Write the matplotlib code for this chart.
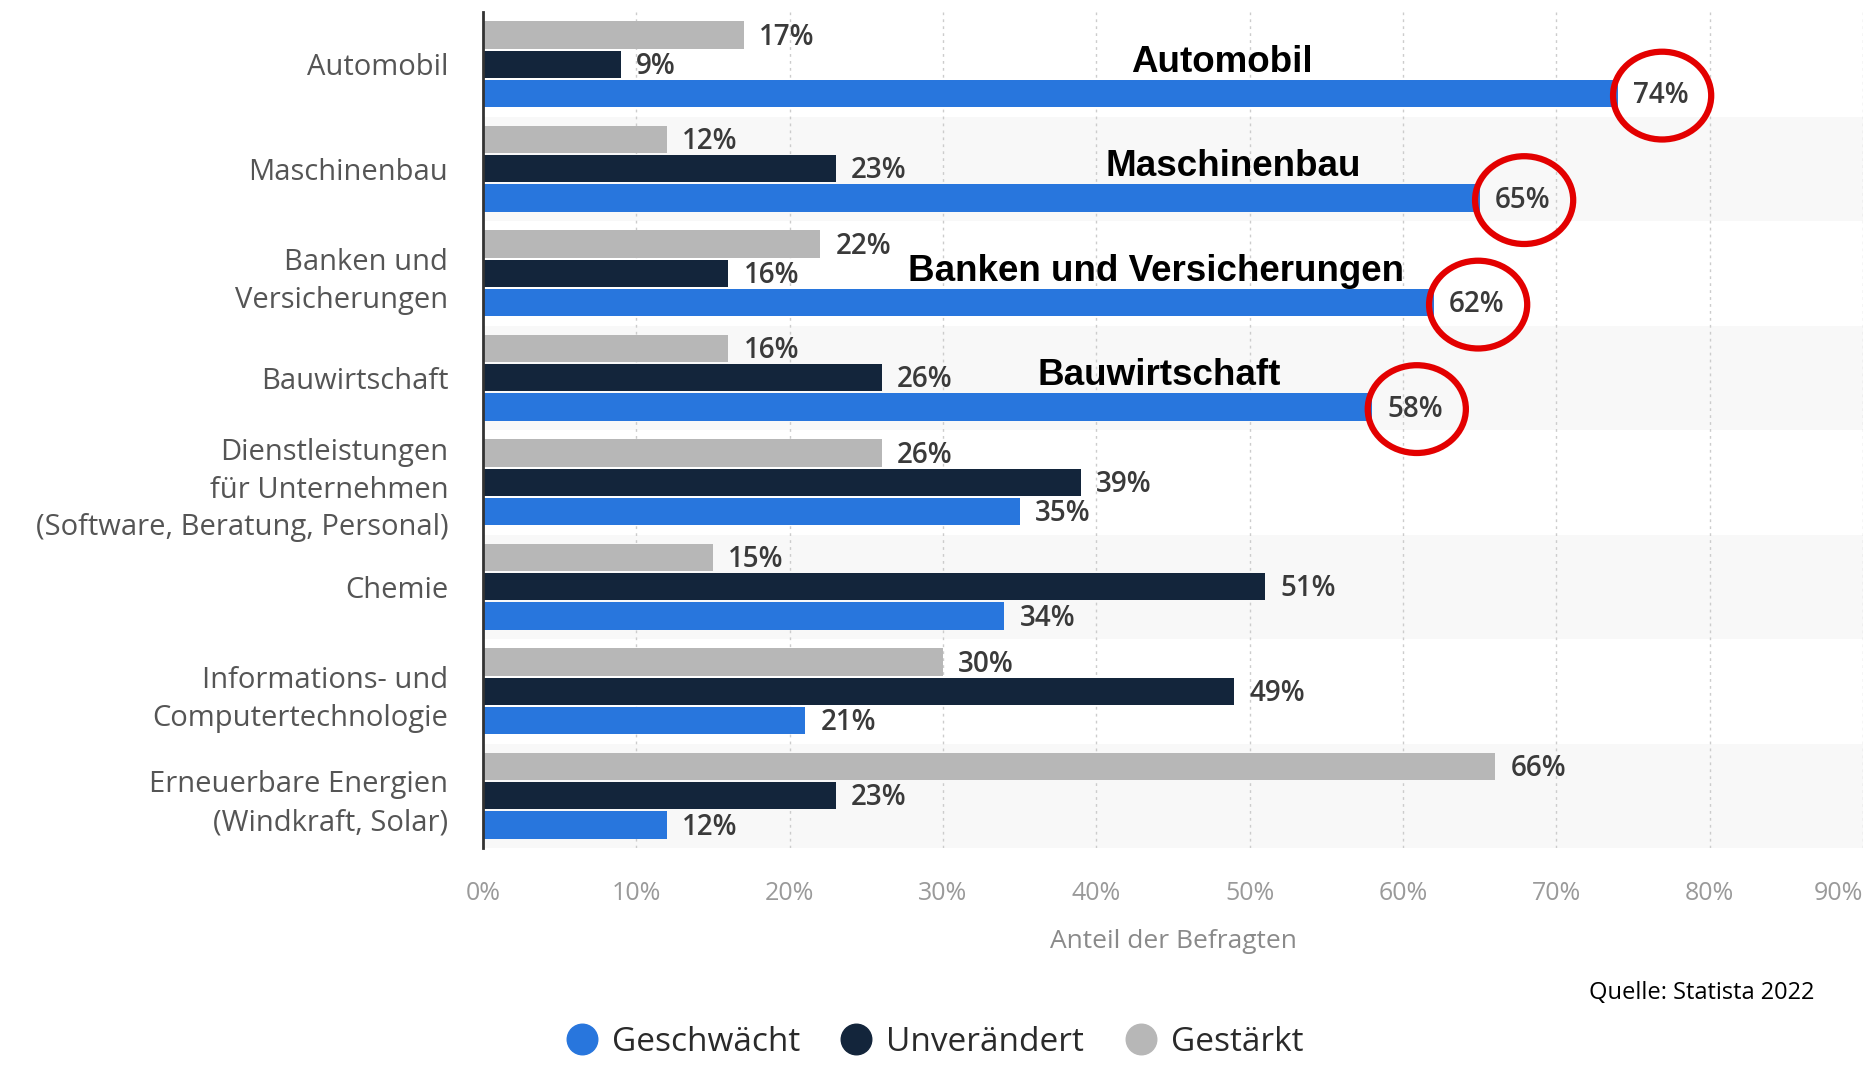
import matplotlib
matplotlib.use("Agg")
import matplotlib.pyplot as plt
from matplotlib.patches import Ellipse
from matplotlib.lines import Line2D
import numpy as np

categories = ["Automobil", "Maschinenbau", "Banken und\nVersicherungen", "Bauwirtschaft",
              "Dienstleistungen\nfür Unternehmen\n(Software, Beratung, Personal)", "Chemie",
              "Informations- und\nComputertechnologie", "Erneuerbare Energien\n(Windkraft, Solar)"]
geschwaecht = [74, 65, 62, 58, 35, 34, 21, 12]
unveraendert = [9, 23, 16, 26, 39, 51, 49, 23]
gestaerkt = [17, 12, 22, 16, 26, 15, 30, 66]
series_names = ["Geschwächt", "Unverändert", "Gestärkt"]
xticks = [0, 10, 20, 30, 40, 50, 60, 70, 80, 90]

# highlighted sectors (bold name above the blue bar + red circle)
highlight = ["Automobil", "Maschinenbau", "Banken und Versicherungen", "Bauwirtschaft"]
highlight_x = [48.2, 48.9, 43.9, 44.1]

BLUE = "#2876dd"
NAVY = "#13253b"
GREY = "#b7b7b7"
FONT = "Open Sans"

fig = plt.figure(figsize=(18.68, 10.65), dpi=100)
ax = fig.add_axes([483 / 1868, 1 - 848 / 1065, (1863 - 483) / 1868, (848 - 12) / 1065])

y = np.arange(len(categories))
h = 0.26
off = 0.28

# alternating band shading
for i in y:
    if i % 2 == 1:
        ax.axhspan(i - 0.5, i + 0.5, color="#f8f8f8", zorder=0, lw=0)

ax.barh(y - off, gestaerkt, height=h, color=GREY, zorder=3)
ax.barh(y, unveraendert, height=h, color=NAVY, zorder=3)
ax.barh(y + off, geschwaecht, height=h, color=BLUE, zorder=3)

for vals, dy in [(gestaerkt, -off), (unveraendert, 0), (geschwaecht, off)]:
    for i, v in enumerate(vals):
        ax.text(v + 1.0, i + dy + 0.02, f"{v}%", ha="left", va="center", fontsize=20,
                fontweight="semibold", color="#3a3a3a", family=FONT, zorder=5)

for i, name in enumerate(highlight):
    ax.text(highlight_x[i], i - 0.02, name, ha="center", va="center", fontsize=26.5,
            fontweight="bold", family="Liberation Sans", color="black", zorder=6)
    ax.add_patch(Ellipse((geschwaecht[i] + 2.9, i + off + 0.02), 6.4, 0.84, fill=False,
                         edgecolor="#e30000", lw=4.5, zorder=7))

ax.set_xlim(0, 90)
ax.set_ylim(len(categories) - 0.5, -0.5)
ax.set_yticks(y)
ax.set_yticklabels(categories, fontsize=21, color="#555555", family=FONT)
for lbl in ax.get_yticklabels():
    lbl.set_linespacing(1.4)
ax.set_xticks(xticks)
ax.set_xticklabels([f"{t}%" for t in xticks], fontsize=18, color="#9a9a9a", family=FONT)
ax.get_xticklabels()[-1].set_ha("right")
ax.tick_params(axis="both", length=0)
ax.tick_params(axis="y", pad=25)
ax.tick_params(axis="x", pad=24)
ax.grid(axis="x", color="#cccccc", linestyle=(0, (2, 3)), lw=1, zorder=1)
ax.set_axisbelow(True)
for s in ["top", "right", "bottom"]:
    ax.spines[s].set_visible(False)
ax.spines["left"].set_color("#333333")
ax.spines["left"].set_linewidth(2)
ax.spines["left"].set_zorder(8)

ax.set_xlabel("Anteil der Befragten", fontsize=19, color="#8a8a8a", family=FONT)
ax.xaxis.set_label_coords(0.5, -(942 - 848) / 836)
ax.xaxis.label.set_va("center")

fig.text(1814 / 1868, 1 - 993 / 1065, "Quelle: Statista 2022", ha="right", va="center",
         fontsize=17, color="black", family=FONT)

handles = [Line2D([], [], marker="o", ls="", markersize=22, color=c) for c in (BLUE, NAVY, GREY)]
fig.legend(handles, series_names, loc="center", bbox_to_anchor=(0.501, 0.021), ncol=3,
           frameon=False, prop={"family": FONT, "size": 24, "weight": "medium"},
           labelcolor="#2a2a2a", handlelength=0.8, handletextpad=0.5, columnspacing=1.3)

fig.savefig("out.png", dpi=100, facecolor="white")
